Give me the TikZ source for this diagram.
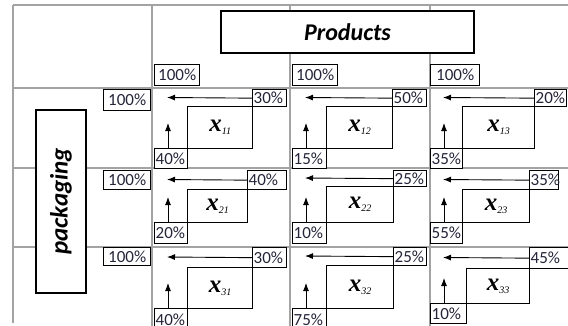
\documentclass[tikz,border=0pt]{standalone}
\usepackage{fontspec}
\setmainfont{Carlito}
\newfontfamily\varfont{Liberation Serif}
\usetikzlibrary{arrows.meta, positioning, calc}
\definecolor{gridgray}{HTML}{A3A3A3}
\definecolor{pctink}{HTML}{25253A}

\tikzset{
  gridline/.style={gridgray, line width=1.4pt},
  pctbox/.style={draw, line width=1.3pt, fill=white, anchor=north west,
    inner xsep=1pt, inner ysep=0pt, align=left, text=pctink,
    font=\fontsize{17}{17}\selectfont},
  varbox/.style={draw, line width=1.3pt, fill=white, anchor=north west,
    inner sep=0pt},
  headbox/.style={draw, line width=1.5pt, fill=white, inner sep=0pt,
    font=\fontsize{24}{24}\selectfont\bfseries\itshape},
  flow/.style={-{Latex[length=8pt,width=6pt]}, line width=0.9pt},
}
\newcommand{\varlabel}[1]{{\varfont\fontsize{25}{25}\selectfont\bfseries\itshape x%
  \raisebox{-3pt}{\fontsize{10}{10}\selectfont\mdseries #1}}}

\begin{document}
\begin{tikzpicture}[x=1pt, y=-1pt]
  \useasboundingbox (0,0) rectangle (568,325);
  \clip (0,0) rectangle (568,325);

  % Table grid
  \draw[gridline] (13,5) -- (568,5);
  \foreach \gy in {88,168,247}
    \draw[gridline] (13,\gy) -- (568,\gy);
  \draw[gridline] (13,5) -- (13,323);
  \foreach \gx in {152,290,430}
    \draw[gridline] (\gx,5) -- (\gx,330);

  % Headings
  \node[headbox, minimum width=253, minimum height=42] (products)
    at (347.5,32) {Products};
  \node[headbox, rotate=90, minimum width=183, minimum height=50,
    font=\fontsize{25}{25}\selectfont\bfseries\itshape] (packaging)
    at (61,201.5) {packaging};

  % Column totals
  \node[pctbox, minimum width=45, minimum height=21] (c1) at (154,64) {100\%};
  \node[pctbox, minimum width=45, minimum height=21] (c2) at (292,64) {100\%};
  \node[pctbox, minimum width=49, minimum height=21] (c3) at (430,64) {100\%};

  % Row totals
  \node[pctbox, minimum width=47, minimum height=21] (r1) at (103,89) {100\%};
  \node[pctbox, minimum width=47, minimum height=19] (r2) at (103,170) {100\%};
  \node[pctbox, minimum width=47, minimum height=18] (r3) at (103,247) {100\%};

  % Cells: name / bottom box left / var box left / var box right / top box right
  %        / top / var top / var bottom / bottom / top share / bottom share
  \foreach \n/\a/\b/\c/\d/\t/\u/\v/\w/\tp/\bp in {
      11/154/187/252/286/89/106/148/168/30/40,
      12/292/326/392/426/89/106/148/168/50/15,
      13/430/462/534/566/89/106/148/168/20/35,
      21/154/187/247/286/170/189/222/243/40/20,
      22/292/326/393/426/170/186/222/243/25/10,
      23/430/462/529/558/170/189/222/243/35/55,
      31/154/187/252/286/247/267/308/330/30/40,
      32/292/326/393/426/247/265/308/330/25/75,
      33/430/466/529/570/247/268/303/323/45/10} {
    \pgfmathsetmacro\tw{\d-\c-2}
    \pgfmathsetmacro\bw{\b-\a-2}
    \node[varbox, minimum width={\c-\b}, minimum height={\v-\u}] (x\n)
      at (\b,\u) {\varlabel{\n}};
    \node[pctbox, text width=\tw pt, minimum height={\u-\t}] (t\n)
      at (\c,\t) {\tp\%};
    \node[pctbox, text width=\bw pt, minimum height={\w-\v}] (b\n)
      at (\a,\v) {\bp\%};
    \coordinate (l\n) at (\a+13,{(\t+\u)/2});
    \coordinate (s\n) at (\a+14,\v-25);
    \draw[flow] (t\n.west) -- (l\n);
    \draw[flow] (b\n.north -| s\n) -- (s\n);
  }
\end{tikzpicture}
\end{document}
